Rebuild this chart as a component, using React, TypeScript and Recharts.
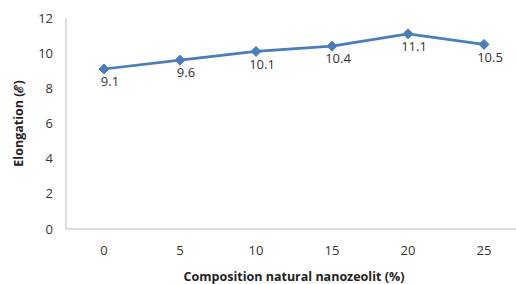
import React from 'react';
import { LineChart, Line, XAxis, YAxis, LabelList } from 'recharts';

const categories = [0, 5, 10, 15, 20, 25];
const elongation = [9.1, 9.6, 10.1, 10.4, 11.1, 10.5];
const yTicks = [0, 2, 4, 6, 8, 10, 12];

const data = categories.map((c, i) => ({ x: c, y: elongation[i] }));

const FONT = '"Open Sans", "Liberation Sans", sans-serif';
const BLUE = '#4a7ebb';

const Diamond = (props: any) => {
  const { cx, cy } = props;
  if (cx == null || cy == null) return null;
  const r = 5;
  return (
    <polygon
      points={`${cx},${cy - r} ${cx + r},${cy} ${cx},${cy + r} ${cx - r},${cy}`}
      fill={BLUE}
      stroke={BLUE}
      strokeWidth={1}
    />
  );
};

const YLabel = (props: any) => {
  const vb = props.viewBox || {};
  const cx = 18;
  const cy = vb.y + vb.height / 2;
  return (
    <text
      x={cx}
      y={cy}
      transform={`rotate(-90, ${cx}, ${cy})`}
      textAnchor="middle"
      dominantBaseline="central"
      fontFamily={FONT}
      fontWeight="bold"
      fontSize={12.5}
      fill="#222"
    >
      Elongation (ℰ)
    </text>
  );
};

export default function App() {
  return (
    <div style={{ position: 'absolute', left: 0, top: 0, width: 516, height: 284, overflow: 'hidden', background: '#fff' }}>
      <LineChart
        width={530}
        height={284}
        data={data}
        margin={{ top: 18, right: 8, bottom: 5, left: 0 }}
      >
        <XAxis
          dataKey="x"
          type="category"
          stroke="#bfbfbf"
          tickLine={false}
          tickSize={0}
          tickMargin={17}
          height={50}
          padding={{ left: 38, right: 38 }}
          tick={{ fill: '#333', fontSize: 13, fontFamily: FONT }}
          label={{
            value: 'Composition natural nanozeolit (%)',
            position: 'insideBottom',
            offset: -2,
            style: { fill: '#222', fontSize: 12.5, fontWeight: 'bold', fontFamily: FONT },
          }}
        />
        <YAxis
          type="number"
          domain={[0, 12]}
          ticks={yTicks}
          interval={0}
          stroke="#bfbfbf"
          tickLine={false}
          tickSize={0}
          tickMargin={13}
          width={66}
          tick={{ fill: '#333', fontSize: 13, fontFamily: FONT }}
          label={<YLabel />}
        />
        <Line
          dataKey="y"
          stroke={BLUE}
          strokeWidth={2.75}
          dot={<Diamond />}
          activeDot={false}
          isAnimationActive={false}
        >
          <LabelList
            dataKey="y"
            position="bottom"
            offset={8}
            dx={6}
            style={{ fill: '#333', fontSize: 13, fontFamily: FONT }}
          />
        </Line>
      </LineChart>
    </div>
  );
}
